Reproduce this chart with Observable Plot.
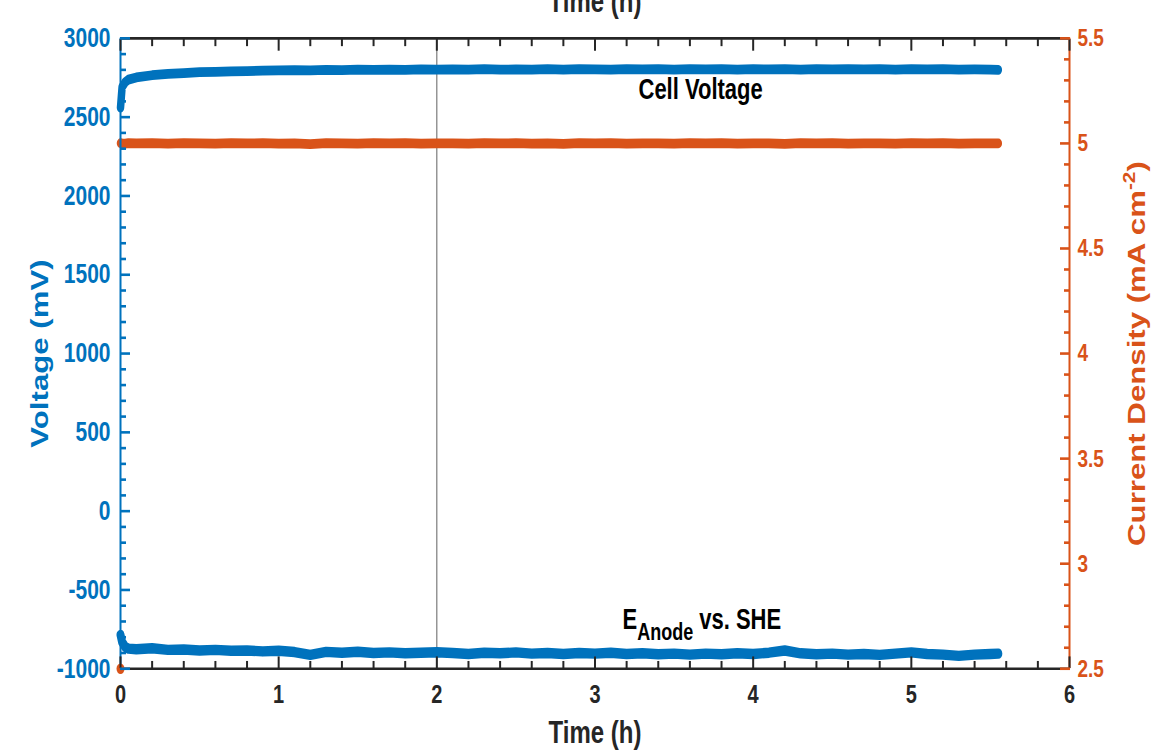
<!DOCTYPE html>
<html>
<head>
<meta charset="utf-8">
<script src="https://cdn.jsdelivr.net/npm/d3@7"></script>
<script src="https://cdn.jsdelivr.net/npm/@observablehq/plot@0.6"></script>
<style>
  body { margin: 0; background: #fff; }
  #chart { width: 1152px; height: 750px; overflow: hidden; }
  #chart svg { display: block; transform-origin: 0 0; transform: scaleY(1.29983); max-width: none !important; }
</style>
</head>
<body>
<div id="chart"></div>
<script>
// ---- data ----
const timeH = [0, 0.01, 0.03, 0.05,
  0.1, 0.2, 0.3, 0.4, 0.5, 0.6, 0.7, 0.8, 0.9, 1.0,
  1.1, 1.2, 1.3, 1.4, 1.5, 1.6, 1.7, 1.8, 1.9, 2.0,
  2.1, 2.2, 2.3, 2.4, 2.5, 2.6, 2.7, 2.8, 2.9, 3.0,
  3.1, 3.2, 3.3, 3.4, 3.5, 3.6, 3.7, 3.8, 3.9, 4.0,
  4.1, 4.2, 4.3, 4.4, 4.5, 4.6, 4.7, 4.8, 4.9, 5.0,
  5.1, 5.2, 5.3, 5.4, 5.5, 5.55];

const cellVoltage = [2560, 2690, 2722, 2738,
  2752, 2766, 2775, 2780, 2785, 2787, 2791, 2792, 2795, 2796,
  2798, 2797, 2800, 2799, 2801, 2800, 2802, 2800, 2803, 2801,
  2803, 2802, 2804, 2801, 2803, 2802, 2804, 2802, 2805, 2803,
  2802, 2804, 2803, 2805, 2802, 2804, 2803, 2805, 2802, 2804,
  2803, 2805, 2802, 2804, 2803, 2805, 2803, 2804, 2802, 2804,
  2803, 2805, 2802, 2803, 2802, 2800];

const anodePotential = [-785, -830, -862, -872,
  -876, -870, -880, -878, -884, -880, -886, -884, -890, -886,
  -894, -912, -893, -898, -892, -900, -896, -902, -898, -895,
  -900, -906, -898, -902, -896, -904, -900, -906, -900, -904,
  -898, -906, -902, -908, -904, -910, -904, -908, -902, -906,
  -898, -884, -902, -908, -904, -910, -906, -912, -904, -896,
  -906, -910, -918, -910, -906, -904];

const currentDensity = [5.001, 5.000, 4.999, 5.001,
  5.000, 5.001, 4.999, 5.001, 5.000, 4.999, 5.001, 5.000, 5.001, 4.999,
  5.000, 4.997, 5.001, 5.000, 4.999, 5.001, 5.000, 5.001, 4.999, 5.000,
  5.000, 4.999, 5.001, 5.000, 5.001, 4.999, 5.000, 4.998, 5.001, 5.000,
  5.001, 4.999, 5.000, 5.000, 4.999, 5.001, 5.000, 5.001, 4.999, 5.000,
  5.000, 4.998, 5.001, 5.000, 5.001, 4.999, 5.000, 5.000, 4.999, 5.001,
  5.000, 5.001, 4.999, 5.000, 5.000, 5.000];

const currentStartTime = [0];
const currentStartValue = [2.5];

const markerTimes = [2];

const xDomain = [0, 6];
const voltDomain = [-1000, 3000];
const currentDomain = [2.5, 5.5];

const xTicks = [0, 1, 2, 3, 4, 5, 6];
const xMinor = [0.2, 0.4, 0.6, 0.8, 1.2, 1.4, 1.6, 1.8, 2.2, 2.4, 2.6, 2.8,
  3.2, 3.4, 3.6, 3.8, 4.2, 4.4, 4.6, 4.8, 5.2, 5.4, 5.6, 5.8];
const voltTicks = [-1000, -500, 0, 500, 1000, 1500, 2000, 2500, 3000];
const voltMinor = [-900, -800, -700, -600, -400, -300, -200, -100, 100, 200, 300, 400,
  600, 700, 800, 900, 1100, 1200, 1300, 1400, 1600, 1700, 1800, 1900,
  2100, 2200, 2300, 2400, 2600, 2700, 2800, 2900];
const currentTicks = [2.5, 3, 3.5, 4, 4.5, 5, 5.5];
const currentMinor = [2.6, 2.7, 2.8, 2.9, 3.1, 3.2, 3.3, 3.4, 3.6, 3.7, 3.8, 3.9,
  4.1, 4.2, 4.3, 4.4, 4.6, 4.7, 4.8, 4.9, 5.1, 5.2, 5.3, 5.4];

const xLabel = "Time (h)";
const leftLabel = "Voltage (mV)";
const rightLabel = "Current Density (mA cm";
const rightLabelSup = "-2";
const annotations = [
  {name: "cell", t: 3.275, v: 2613, text: "Cell Voltage"},
  {name: "anode", t: 3.174, v: -746, text: "E"}
];
const anodeSub = "Anode";
const anodeRest = " vs. SHE";

// ---- helpers ----
const jToMV = j => (j - currentDomain[0]) / (currentDomain[1] - currentDomain[0]) * (voltDomain[1] - voltDomain[0]) + voltDomain[0];
const mvToJ = v => (v - voltDomain[0]) / (voltDomain[1] - voltDomain[0]) * (currentDomain[1] - currentDomain[0]) + currentDomain[0];

const cellData = timeH.map((t, i) => ({t, v: cellVoltage[i]}));
const anodeData = timeH.map((t, i) => ({t, v: anodePotential[i]}));
const currentData = timeH.map((t, i) => ({t, j: currentDensity[i]}));
const startData = currentStartTime.map((t, i) => ({t, j: currentStartValue[i]}));

const blue = "#0072BD", orange = "#D95319", dark = "#262626";
const font = "'Liberation Sans', Arial, Helvetica, sans-serif";

const lineOpts = {x: "t", strokeWidth: 7.5, strokeLinecap: "round", strokeLinejoin: "round"};

const plot = Plot.plot({
  width: 1152,
  height: 577,
  marginLeft: 120,
  marginRight: 83,
  marginTop: 29,
  marginBottom: 63,
  style: {fontFamily: font, fontWeight: "bold", background: "white", overflow: "visible"},
  x: {domain: xDomain},
  y: {domain: voltDomain},
  marks: [
    Plot.ruleX(markerTimes, {stroke: "#606060", strokeWidth: 1}),
    Plot.line(currentData, {...lineOpts, y: d => jToMV(d.j), stroke: orange}),
    Plot.line(cellData, {...lineOpts, y: "v", stroke: blue}),
    Plot.line(anodeData, {...lineOpts, y: "v", stroke: blue, strokeWidth: 8}),
    // frame
    Plot.ruleY([voltDomain[1]], {stroke: dark, strokeWidth: 2}),
    Plot.ruleY([voltDomain[0]], {stroke: dark, strokeWidth: 2}),
    Plot.ruleX([xDomain[0]], {stroke: blue, strokeWidth: 2}),
    Plot.ruleX([xDomain[1]], {stroke: orange, strokeWidth: 2}),
    Plot.dot(startData, {x: "t", y: d => jToMV(d.j), r: 4, fill: orange, stroke: "none"}),
    // x axes
    Plot.axisX({anchor: "bottom", ticks: xTicks, tickSize: 9, insetBottom: 9, tickPadding: 12,
      tickFormat: d => String(d), fontSize: 20, color: dark, strokeWidth: 2, label: null}),
    Plot.axisX({anchor: "bottom", ticks: xMinor, tickSize: 5.5, insetBottom: 5.5,
      stroke: dark, fill: "none", strokeWidth: 2, label: null}),
    Plot.axisX({anchor: "top", ticks: xTicks, tickSize: 9, insetTop: 9,
      stroke: dark, fill: "none", strokeWidth: 2, label: null}),
    Plot.axisX({anchor: "top", ticks: xMinor, tickSize: 5.5, insetTop: 5.5,
      stroke: dark, fill: "none", strokeWidth: 2, label: null}),
    // left axis
    Plot.axisY({anchor: "left", ticks: voltTicks, tickSize: 10, insetLeft: 10, tickPadding: 10,
      tickFormat: d => String(d), fontSize: 21, color: blue, strokeWidth: 2, label: null}),
    Plot.axisY({anchor: "left", ticks: voltMinor, tickSize: 6, insetLeft: 6,
      stroke: blue, fill: "none", strokeWidth: 2, label: null}),
    // right axis
    Plot.axisY({anchor: "right", ticks: currentTicks.map(jToMV), tickSize: 10, insetRight: 10, tickPadding: 8,
      tickFormat: v => String(+mvToJ(v).toFixed(2)), fontSize: 19, color: orange, strokeWidth: 2, label: null}),
    Plot.axisY({anchor: "right", ticks: currentMinor.map(jToMV), tickSize: 6, insetRight: 6,
      stroke: orange, fill: "none", strokeWidth: 2, label: null}),
    // axis titles
    Plot.text([xLabel], {text: d => d, frameAnchor: "bottom", dy: 57, lineAnchor: "bottom",
      fontSize: 24, fontWeight: "bold", fill: dark}),
    Plot.text([xLabel], {text: d => d, frameAnchor: "top", dy: -20, lineAnchor: "bottom",
      fontSize: 24, fontWeight: "bold", fill: dark}),
    Plot.text([leftLabel], {text: d => d, frameAnchor: "left", dx: -80, rotate: -90,
      textAnchor: "middle", lineAnchor: "middle", fontSize: 24, fontWeight: "bold", fill: blue}),
    Plot.text([rightLabel], {text: d => d, frameAnchor: "right", dx: 68, rotate: -90,
      textAnchor: "middle", lineAnchor: "middle", fontSize: 24, fontWeight: "bold", fill: orange}),
    // annotations
    Plot.text(annotations, {x: "t", y: "v", text: "text",
      textAnchor: "start", lineAnchor: "bottom", fontSize: 22, fontWeight: "bold", fill: "#000"})
  ]
});

// subscript / superscript (text found by its content)
d3.select(plot).selectAll("text").each(function () {
  const t = d3.select(this);
  const content = this.textContent;
  if (content === annotations[1].text) {
    t.text(null);
    t.append("tspan").text(content);
    t.append("tspan").attr("font-size", 18).attr("dy", 9).text(anodeSub);
    t.append("tspan").attr("dy", -9).text(anodeRest);
  } else if (content === rightLabel) {
    t.text(null);
    t.append("tspan").text(rightLabel);
    t.append("tspan").attr("font-size", 16).attr("dy", -10).text(rightLabelSup);
    t.append("tspan").attr("dy", 10).text(")");
  }
});

document.getElementById("chart").appendChild(plot);
</script>
</body>
</html>
